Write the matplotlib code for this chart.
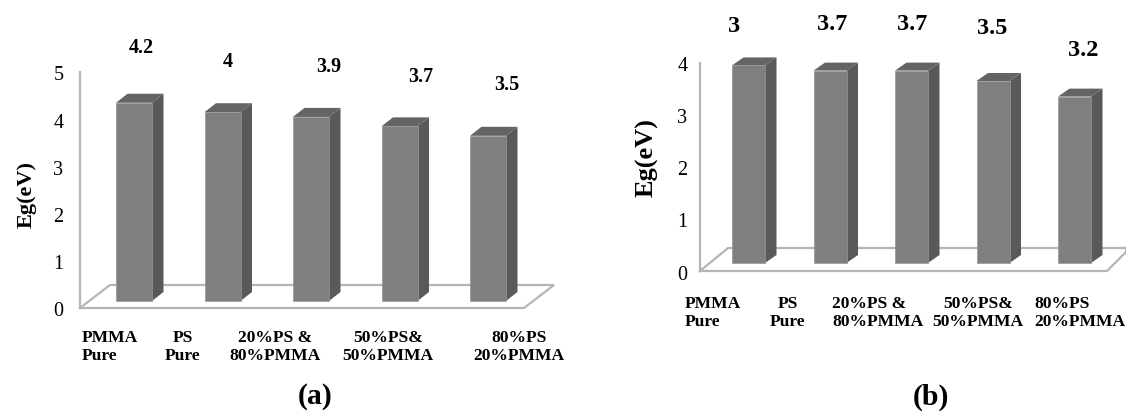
import matplotlib
matplotlib.use('Agg')
import matplotlib.pyplot as plt
from matplotlib.patches import Polygon
from matplotlib.transforms import ScaledTranslation

W, H = 1126, 413

# data
categories_a = ['PMMA\nPure', 'PS\nPure', '20%PS &\n80%PMMA', '50%PS&\n50%PMMA', '80%PS\n20%PMMA']
categories_b = ['PMMA\nPure', 'PS\nPure', '20%PS &\n80%PMMA', '50%PS&\n50%PMMA', '80%PS\n20%PMMA']
values_a = [4.2, 4.0, 3.9, 3.7, 3.5]
values_b = [3.8, 3.7, 3.7, 3.5, 3.2]
value_labels_a = ['4.2', '4', '3.9', '3.7', '3.5']
value_labels_b = ['3', '3.7', '3.7', '3.5', '3.2']
yticks_a = [0, 1, 2, 3, 4, 5]
yticks_b = [0, 1, 2, 3, 4]

plt.rcParams['font.family'] = ['Liberation Serif', 'DejaVu Serif']

FRONT = '#7f7f7f'
SIDE = '#595959'
TOP = '#646464'
FLOOR = '#b5b5b5'

fig = plt.figure(figsize=(W / 100, H / 100), dpi=100, facecolor='white')


def px_text(x, y, s, **kw):
    # place text using pixel position in the image
    kw.setdefault('ha', 'center')
    kw.setdefault('va', 'center')
    return fig.text(x / W, 1 - y / H, s, **kw)


def bars_3d(values, yticks, left, right, y0, ytop, first_x, step, bar_w, depth, rise, lift, floor, pad):
    # axes spans the wall + floor, y=0 at the front floor edge
    ax = fig.add_axes([left / W, 1 - y0 / H, (right - left) / W, (y0 - ytop) / H])
    ax.set_facecolor('none')
    ax.set_xlim((left - first_x) / step, (right - first_x) / step)
    ax.set_ylim(0, yticks[-1])
    sy = (y0 - ytop) / yticks[-1]

    dx = depth / step
    dy = rise / sy
    base = lift / sy
    w = bar_w / step

    # floor outline
    fx = [(left - first_x) / step + (p - left) / step for p in floor[0]]
    fy = [(y0 - p) / sy for p in floor[1]]
    ax.plot(fx, fy, color=FLOOR, lw=1.6, clip_on=False, zorder=1, solid_joinstyle='miter')

    xs = list(range(len(values)))
    ax.bar(xs, values, width=w, bottom=base, align='edge', color=FRONT, edgecolor='#969696', linewidth=0.5, zorder=3)
    for x, v in zip(xs, values):
        ax.add_patch(Polygon([(x + w, base), (x + w + dx, base + dy), (x + w + dx, base + v + dy), (x + w, base + v)],
                             closed=True, facecolor=SIDE, edgecolor='none', zorder=2, clip_on=False))
        ax.add_patch(Polygon([(x, base + v), (x + dx, base + v + dy), (x + w + dx, base + v + dy), (x + w, base + v)],
                             closed=True, facecolor=TOP, edgecolor='none', zorder=2, clip_on=False))

    ax.set_yticks(yticks)
    ax.set_xticks([])
    ax.tick_params(axis='y', length=0, pad=pad, labelsize=14.5)
    # numbers sit a little under their gridline level in the original
    for t in ax.get_yticklabels():
        t.set_transform(t.get_transform() + ScaledTranslation(0, -0.015, fig.dpi_scale_trans))
    for side in ['top', 'right', 'bottom']:
        ax.spines[side].set_visible(False)
    ax.spines['left'].set_color(FLOOR)
    ax.spines['left'].set_linewidth(1.6)
    return ax


# panel (a)
bars_3d(values_a, yticks_a, 80, 554, 308, 72, 116, 88.5, 36, 11.5, 9, 7,
        ([80, 524, 554, 110, 80], [308, 308, 285, 285, 308]), 12)
# panel (b)
bars_3d(values_b, yticks_b, 700, 1126, 271, 63, 732, 81.5, 33, 11.5, 8, 8,
        ([700, 1107, 1126, 1126, 728, 700], [271, 271, 252, 248, 248, 271]), 9)

# value labels over the bars
for x, y, s in zip([141, 228, 329, 421, 507], [48, 62, 67, 77, 85], value_labels_a):
    px_text(x, y, s, fontsize=14.5, fontweight='bold')
for x, y, s in zip([734, 832, 912, 992, 1083], [26, 24, 25, 29, 51], value_labels_b):
    px_text(x, y, s, fontsize=17.5, fontweight='bold')

# category labels, spread by hand like the original
lab = dict(fontsize=12.6, fontweight='bold', linespacing=1.1)
for x, s, ha in zip([82, 183, 275, 388, 519], categories_a, ['left', 'center', 'center', 'center', 'center']):
    px_text(x, 347, s, ha=ha, multialignment=ha, **lab)
for x, s, ha in zip([685, 788, 832, 978, 1034], categories_b, ['left', 'center', 'left', 'center', 'left']):
    px_text(x, 313, s, ha=ha, multialignment='center' if ha == 'center' else 'left', **lab)

px_text(27, 194, 'Eg(eV)', rotation=90, fontsize=16, fontweight='bold')
px_text(647, 158, 'Eg(eV)', rotation=90, fontsize=19, fontweight='bold')
px_text(315, 397, '(a)', fontsize=21.5, fontweight='bold')
px_text(931, 397, '(b)', fontsize=21.5, fontweight='bold')

fig.savefig('out.png', dpi=100)
